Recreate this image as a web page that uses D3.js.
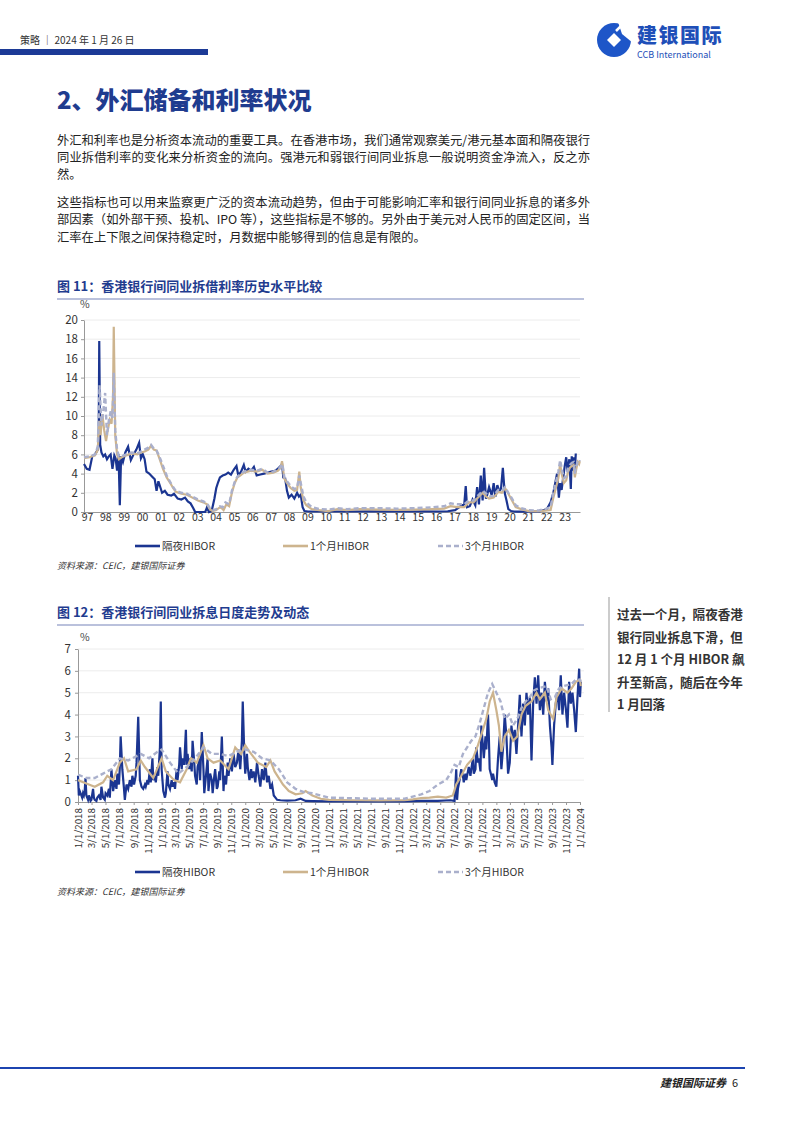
<!DOCTYPE html>
<html><head><meta charset="utf-8">
<script src="https://cdn.jsdelivr.net/npm/d3@7"></script>
<style>
html,body{margin:0;padding:0;background:#fff;}
svg text{font-family:"Noto Sans CJK SC","Noto Sans",sans-serif;}
</style></head>
<body>
<svg id="page" width="802" height="1133"></svg>
<script>
// ---------- DATA ----------
// Chart 1 (monthly history, fractional years)
const c1OnDates = [1997.0,1997.15,1997.3,1997.45,1997.6,1997.75,1997.8,1997.83,1997.88,1997.95,1998.05,1998.15,1998.25,1998.35,1998.45,1998.55,1998.65,1998.72,1998.8,1998.88,1998.95,1999.02,1999.12,1999.25,1999.4,1999.55,1999.7,1999.85,2000.0,2000.1,2000.2,2000.3,2000.4,2000.55,2000.7,2000.85,2000.95,2001.05,2001.15,2001.25,2001.4,2001.55,2001.75,2001.9,2002.1,2002.3,2002.5,2002.65,2002.8,2002.95,2003.05,2003.2,2003.4,2003.6,2003.7,2003.8,2003.95,2004.1,2004.2,2004.3,2004.4,2004.55,2004.7,2004.85,2005.0,2005.15,2005.3,2005.4,2005.55,2005.7,2005.8,2005.95,2006.1,2006.25,2006.4,2006.6,2006.8,2007.0,2007.2,2007.4,2007.55,2007.7,2007.78,2007.85,2007.95,2008.05,2008.15,2008.3,2008.45,2008.6,2008.7,2008.8,2008.9,2009.0,2009.2,2009.6,2010.0,2010.8,2011.5,2012.5,2013.5,2014.5,2015.5,2016.3,2016.8,2017.2,2017.5,2017.7,2017.78,2017.85,2018.0,2018.15,2018.3,2018.4,2018.5,2018.6,2018.7,2018.78,2018.88,2018.95,2019.05,2019.2,2019.3,2019.4,2019.5,2019.6,2019.7,2019.8,2019.9,2020.0,2020.1,2020.25,2020.4,2020.55,2020.8,2021.3,2021.8,2022.2,2022.4,2022.55,2022.65,2022.75,2022.85,2022.92,2023.0,2023.08,2023.17,2023.25,2023.33,2023.42,2023.5,2023.55,2023.6,2023.67,2023.72,2023.77,2023.83,2023.88,2023.93,2023.97];
const c1OnVals  = [5.0,4.5,4.4,5.8,6.0,6.5,7.5,17.8,7.0,6.2,5.8,6.0,5.5,5.8,6.0,4.5,5.9,5.6,4.3,6.0,0.7,5.8,5.2,6.2,6.8,5.4,6.0,6.5,7.2,5.6,6.0,5.5,4.2,4.0,3.7,3.4,2.2,3.2,2.6,2.0,2.2,1.8,1.7,1.9,1.4,1.3,1.5,1.1,0.9,0.4,0.0,0.0,0.0,0.0,0.5,0.0,0.1,1.4,2.5,3.1,3.6,3.8,3.9,4.1,3.9,4.4,4.8,3.8,4.2,4.9,4.2,4.5,4.3,4.7,3.8,3.9,4.0,4.1,4.2,4.3,4.5,4.8,5.0,3.6,3.5,2.2,1.5,1.8,1.4,2.0,1.6,1.8,0.5,0.1,0.05,0.05,0.05,0.05,0.05,0.06,0.06,0.05,0.06,0.05,0.08,0.2,0.6,0.8,2.7,0.5,0.6,1.3,0.7,2.6,0.8,3.8,1.2,4.6,1.4,1.8,2.6,1.7,3.0,1.6,2.8,2.2,2.4,4.6,2.0,1.2,0.3,0.1,0.05,0.03,0.03,0.03,0.05,0.3,1.0,2.0,3.0,4.0,1.5,3.0,2.3,3.5,4.8,5.7,4.2,5.5,2.4,5.8,4.3,5.7,4.2,6.1];

const c1M1Dates = [1997.0,1997.3,1997.6,1997.75,1997.83,1997.9,1998.0,1998.1,1998.2,1998.3,1998.4,1998.5,1998.58,1998.62,1998.7,1998.8,1998.9,1999.05,1999.3,1999.6,1999.9,2000.1,2000.3,2000.5,2000.65,2000.8,2000.95,2001.1,2001.3,2001.5,2001.7,2001.85,2002.0,2002.3,2002.6,2002.9,2003.2,2003.5,2003.7,2003.85,2004.0,2004.2,2004.4,2004.5,2004.6,2004.75,2004.9,2005.05,2005.2,2005.35,2005.5,2005.7,2005.9,2006.1,2006.4,2006.7,2007.0,2007.3,2007.55,2007.7,2007.78,2007.9,2008.05,2008.25,2008.45,2008.6,2008.72,2008.8,2008.95,2009.1,2009.4,2009.8,2010.3,2010.8,2011.3,2012.0,2013.0,2014.0,2015.0,2016.0,2016.6,2016.95,2017.3,2017.7,2017.95,2018.2,2018.45,2018.7,2018.9,2019.05,2019.3,2019.55,2019.75,2019.92,2020.1,2020.3,2020.5,2020.8,2021.2,2021.7,2022.1,2022.4,2022.55,2022.7,2022.82,2022.92,2023.0,2023.12,2023.25,2023.35,2023.45,2023.55,2023.65,2023.72,2023.8,2023.88,2023.95,2023.99];
const c1M1Vals  = [5.6,5.7,5.9,6.5,9.5,8.0,10.2,8.5,7.4,8.6,9.6,9.2,12.0,19.3,8.0,6.0,5.5,5.7,5.9,6.1,6.0,6.2,6.3,6.5,6.9,6.5,6.4,5.6,4.5,3.6,3.0,2.5,2.1,1.9,1.8,1.5,1.2,1.0,0.8,0.3,0.1,0.2,0.5,0.4,0.2,0.8,0.6,2.0,3.0,3.6,3.8,4.1,4.2,4.3,4.2,4.4,4.0,4.1,4.3,4.6,5.3,3.5,3.0,2.5,2.2,2.3,4.2,2.5,1.2,0.7,0.3,0.2,0.1,0.3,0.2,0.3,0.25,0.22,0.25,0.3,0.35,0.6,0.5,0.5,1.0,1.0,1.5,2.0,1.6,1.4,1.5,2.1,2.0,2.5,1.9,1.2,0.5,0.3,0.1,0.08,0.15,0.2,1.5,2.6,3.5,5.0,4.0,3.0,3.3,4.2,4.6,4.8,4.9,3.6,4.5,5.2,5.0,5.3];

const c1M3Dates = [1997.0,1997.3,1997.6,1997.75,1997.85,1997.95,1998.05,1998.15,1998.25,1998.35,1998.45,1998.55,1998.62,1998.7,1998.8,1998.9,1999.05,1999.3,1999.6,1999.9,2000.1,2000.3,2000.5,2000.65,2000.8,2000.95,2001.1,2001.3,2001.5,2001.7,2001.85,2002.0,2002.3,2002.6,2002.9,2003.2,2003.5,2003.7,2003.85,2004.0,2004.2,2004.4,2004.55,2004.7,2004.9,2005.05,2005.2,2005.35,2005.5,2005.7,2005.9,2006.1,2006.4,2006.7,2007.0,2007.3,2007.55,2007.7,2007.8,2007.9,2008.05,2008.25,2008.45,2008.6,2008.72,2008.8,2008.95,2009.1,2009.4,2009.8,2010.3,2010.8,2011.3,2012.0,2013.0,2014.0,2015.0,2016.0,2016.6,2016.95,2017.3,2017.7,2017.95,2018.2,2018.45,2018.7,2018.9,2019.05,2019.3,2019.55,2019.75,2019.92,2020.1,2020.3,2020.5,2020.8,2021.2,2021.7,2022.1,2022.4,2022.55,2022.7,2022.82,2022.92,2023.0,2023.12,2023.25,2023.35,2023.45,2023.55,2023.65,2023.72,2023.8,2023.88,2023.95,2023.99];
const c1M3Vals  = [5.7,5.8,6.0,6.8,13.2,9.0,10.5,12.4,8.0,9.5,10.5,9.8,14.5,8.5,6.5,5.8,5.8,6.0,6.2,6.1,6.3,6.5,6.7,7.0,6.6,6.4,5.8,4.8,3.8,3.1,2.6,2.2,2.0,1.9,1.6,1.3,1.1,0.9,0.4,0.2,0.3,0.6,0.5,1.0,0.8,2.2,3.1,3.7,3.9,4.2,4.3,4.4,4.3,4.5,4.1,4.2,4.4,4.7,5.0,3.7,3.2,2.7,2.4,2.5,3.8,3.0,1.6,1.0,0.5,0.3,0.25,0.4,0.3,0.4,0.4,0.35,0.4,0.5,0.6,0.9,0.8,0.8,1.2,1.2,1.7,2.2,1.9,1.6,1.7,2.3,2.2,2.6,2.0,1.4,0.7,0.4,0.2,0.15,0.3,0.5,2.0,3.2,4.2,5.4,4.6,3.5,3.7,4.5,4.9,5.1,5.2,4.0,4.8,5.3,5.2,5.4];

// Chart 2 (daily trend 2018-2024, fractional years)
const c2OnDates = [
 2018.00,2018.01,2018.02,2018.03,2018.04,2018.05,2018.06,2018.07,2018.08,2018.09,
 2018.10,2018.11,2018.12,2018.13,2018.15,2018.16,2018.18,2018.19,2018.20,2018.22,
 2018.23,2018.25,2018.27,2018.28,2018.30,2018.32,2018.33,2018.35,2018.37,2018.38,
 2018.40,2018.42,2018.44,2018.46,2018.47,2018.49,2018.50,2018.51,2018.53,2018.55,
 2018.56,2018.58,2018.60,2018.62,2018.64,2018.65,2018.67,2018.69,2018.70,2018.72,
 2018.74,2018.76,2018.78,2018.80,2018.81,2018.83,2018.84,2018.86,2018.87,2018.89,
 2018.90,2018.92,2018.93,2018.95,2018.96,2018.98,2018.99,2019.00,2019.02,2019.04,
 2019.05,2019.07,2019.08,2019.10,2019.12,2019.13,2019.15,2019.16,2019.18,2019.19,
 2019.21,2019.22,2019.24,2019.25,2019.27,2019.29,2019.30,2019.31,2019.33,2019.34,
 2019.36,2019.37,2019.39,2019.40,2019.42,2019.43,2019.45,2019.46,2019.48,2019.50,
 2019.51,2019.53,2019.55,2019.56,2019.58,2019.60,2019.61,2019.63,2019.64,2019.66,
 2019.67,2019.69,2019.70,2019.72,2019.74,2019.75,2019.77,2019.79,2019.80,2019.82,
 2019.84,2019.86,2019.88,2019.90,2019.92,2019.94,2019.96,2019.97,2019.99,2020.00,
 2020.02,2020.03,2020.05,2020.07,2020.08,2020.10,2020.12,2020.14,2020.16,2020.18,
 2020.20,2020.22,2020.24,2020.26,2020.28,2020.30,2020.32,2020.34,2020.36,2020.38,
 2020.42,2020.50,2020.60,2020.66,2020.72,2020.80,2021.00,2021.30,2021.60,2021.90,
 2022.10,2022.30,2022.45,2022.50,2022.52,2022.53,2022.54,2022.56,2022.58,2022.60,
 2022.61,2022.63,2022.64,2022.66,2022.67,2022.69,2022.70,2022.72,2022.73,2022.75,
 2022.76,2022.78,2022.79,2022.81,2022.82,2022.84,2022.85,2022.87,2022.88,2022.90,
 2022.91,2022.92,2022.94,2022.95,2022.96,2022.98,2023.00,2023.02,2023.04,2023.06,
 2023.08,2023.10,2023.12,2023.14,2023.16,2023.18,2023.20,2023.22,2023.24,2023.26,
 2023.28,2023.30,2023.32,2023.34,2023.36,2023.38,2023.40,2023.42,2023.44,2023.46,
 2023.48,2023.50,2023.52,2023.54,2023.56,2023.58,2023.60,2023.62,2023.64,2023.66,
 2023.67,2023.69,2023.71,2023.73,2023.75,2023.77,2023.79,2023.81,2023.83,2023.85,
 2023.87,2023.89,2023.91,2023.93,2023.95,2023.97,2023.99,2024.00,2024.01];
const c2OnVals = [
 1.2,0.3,0.5,0.4,0.3,0.2,0.4,0.3,0.5,1.1,
 0.3,0.2,0.1,0.3,0.05,0.1,0.6,0.2,0.1,0.05,
 0.2,0.3,0.1,0.7,0.2,0.1,0.4,0.3,0.6,0.2,
 1.5,0.5,1.0,0.6,1.3,0.8,1.6,3.0,1.5,0.6,
 0.1,0.8,0.6,1.0,0.7,1.2,0.8,1.2,1.8,3.9,
 1.0,0.7,0.6,0.8,0.7,1.0,0.8,1.5,0.9,2.0,
 1.0,1.2,0.9,1.6,1.2,2.5,4.6,1.5,0.5,0.2,
 0.4,1.4,0.8,0.6,1.0,0.7,0.9,0.6,1.5,1.0,
 1.7,2.5,1.5,2.0,1.7,3.3,1.7,2.2,1.5,2.0,
 1.4,2.8,1.8,1.2,0.8,1.6,2.0,1.0,3.2,1.5,
 0.4,1.2,2.0,0.5,1.3,1.0,0.4,1.2,1.5,0.6,
 0.7,1.4,1.0,3.0,0.5,1.2,0.8,1.8,1.2,2.0,
 1.4,2.2,1.6,1.8,2.4,1.5,2.8,4.6,2.0,1.3,
 2.2,1.6,1.0,1.5,1.1,1.4,0.9,1.8,1.2,0.7,
 1.5,1.0,1.8,0.9,1.2,0.6,0.8,0.3,0.2,0.1,
 0.08,0.06,0.08,0.15,0.05,0.04,0.03,0.03,0.03,0.03,
 0.05,0.05,0.08,0.05,1.5,0.1,0.6,1.0,1.5,1.2,
 0.9,1.3,1.0,1.4,1.6,1.2,1.5,2.0,1.3,1.5,
 2.5,1.8,2.0,1.4,3.5,2.5,2.0,3.0,2.4,4.0,
 3.0,1.5,1.2,1.0,1.3,0.9,0.7,2.0,3.0,1.5,
 2.5,4.0,3.0,1.3,1.8,3.5,2.8,3.3,2.2,3.5,
 4.9,3.0,4.5,3.5,5.0,4.0,4.8,1.9,4.5,5.7,
 4.5,5.8,4.2,5.0,4.0,5.5,4.6,5.2,3.5,2.5,
 1.7,3.5,4.5,5.0,4.2,5.8,4.0,5.0,4.3,3.4,
 5.5,4.5,5.0,4.2,3.2,4.8,6.1,4.8,5.5];

const c2M1Dates = [2018.0,2018.1,2018.2,2018.3,2018.35,2018.42,2018.5,2018.55,2018.6,2018.7,2018.75,2018.8,2018.9,2019.0,2019.05,2019.15,2019.22,2019.3,2019.35,2019.42,2019.5,2019.55,2019.62,2019.7,2019.8,2019.88,2019.95,2020.0,2020.05,2020.15,2020.25,2020.3,2020.35,2020.45,2020.52,2020.6,2020.68,2020.72,2020.8,2020.9,2021.0,2021.3,2021.6,2021.9,2022.0,2022.1,2022.2,2022.3,2022.4,2022.48,2022.52,2022.58,2022.65,2022.72,2022.78,2022.83,2022.88,2022.92,2022.96,2023.0,2023.03,2023.06,2023.1,2023.15,2023.2,2023.25,2023.3,2023.35,2023.42,2023.48,2023.52,2023.58,2023.62,2023.68,2023.72,2023.78,2023.85,2023.9,2023.95,2024.0,2024.01];
const c2M1Vals  = [1.0,0.85,0.7,0.9,1.2,1.0,1.8,2.0,1.4,1.5,1.9,1.6,1.1,2.0,1.4,1.0,0.9,1.5,2.0,1.8,2.6,2.0,1.8,1.9,1.5,2.5,2.2,2.6,2.3,1.8,1.6,1.9,1.4,0.8,0.5,0.35,0.4,0.5,0.3,0.15,0.1,0.08,0.07,0.08,0.12,0.18,0.2,0.25,0.2,0.3,0.8,1.2,1.7,2.0,2.6,3.2,3.8,4.6,5.0,4.2,3.5,2.3,3.0,3.3,2.8,3.0,4.0,4.4,4.6,5.0,4.7,5.0,4.2,3.8,4.8,5.2,5.0,5.2,5.5,5.6,5.3];

const c2M3Dates = [2018.0,2018.1,2018.2,2018.3,2018.4,2018.5,2018.6,2018.7,2018.75,2018.85,2018.95,2019.0,2019.1,2019.2,2019.3,2019.4,2019.5,2019.6,2019.7,2019.8,2019.9,2020.0,2020.1,2020.2,2020.3,2020.4,2020.5,2020.6,2020.7,2020.8,2020.9,2021.0,2021.5,2021.9,2022.0,2022.1,2022.2,2022.3,2022.4,2022.45,2022.5,2022.55,2022.6,2022.7,2022.75,2022.8,2022.85,2022.9,2022.95,2023.0,2023.05,2023.1,2023.15,2023.2,2023.25,2023.3,2023.35,2023.4,2023.45,2023.5,2023.6,2023.65,2023.7,2023.75,2023.8,2023.9,2023.95,2024.0,2024.01];
const c2M3Vals  = [1.25,1.1,1.1,1.3,1.5,2.0,1.9,2.1,2.2,2.0,2.3,2.4,1.8,1.3,1.6,2.0,2.5,2.2,2.2,2.1,2.3,2.4,2.3,2.0,1.9,1.5,0.9,0.6,0.45,0.4,0.3,0.2,0.15,0.15,0.25,0.35,0.5,0.8,1.0,1.3,1.7,1.6,2.2,2.8,3.0,3.6,4.3,5.0,5.4,5.0,4.6,3.8,4.0,3.5,3.8,4.3,4.6,4.8,5.1,5.2,5.3,4.7,4.8,5.2,5.3,5.4,5.6,5.6,5.5];

const c1YTicks = [0,2,4,6,8,10,12,14,16,18,20];
const c1XLabels = ["97","98","99","00","01","02","03","04","05","06","07","08","09","10","11","12","13","14","15","16","17","18","19","20","21","22","23"];
const c2YTicks = [0,1,2,3,4,5,6,7];
const seriesNames = ["隔夜HIBOR","1个月HIBOR","3个月HIBOR"];

const para1 = ["外汇和利率也是分析资本流动的重要工具。在香港市场，我们通常观察美元/港元基本面和隔夜银行",
               "同业拆借利率的变化来分析资金的流向。强港元和弱银行间同业拆息一般说明资金净流入，反之亦",
               "然。"];
const para2 = ["这些指标也可以用来监察更广泛的资本流动趋势，但由于可能影响汇率和银行间同业拆息的诸多外",
               "部因素（如外部干预、投机、IPO 等），这些指标是不够的。另外由于美元对人民币的固定区间，当",
               "汇率在上下限之间保持稳定时，月数据中能够得到的信息是有限的。"];
const sideNote = ["过去一个月，隔夜香港","银行同业拆息下滑，但","12 月 1 个月 HIBOR 飙","升至新高，随后在今年","1 月回落"];

// ---------- STYLE ----------
const NAVY = "#1b3591", TAN = "#cdb48e", GREY = "#aab0cc", TITLE = "#1f3c8f";
const svg = d3.select("#page");

// ---------- HEADER ----------
svg.append("text").attr("x",20).attr("y",44).attr("font-size",10).attr("fill","#333").text("策略 ｜ 2024 年 1 月 26 日");
svg.append("rect").attr("x",0).attr("y",49).attr("width",208).attr("height",6).attr("fill","#1c3a96");
// logo
const lg = svg.append("g").attr("transform","translate(614,40)");
lg.append("circle").attr("r",17).attr("fill","#1e56c8");
lg.append("path").attr("d","M-7,0 L0,-7 L7,0 L0,7 Z").attr("fill","#fff");
lg.append("path").attr("d","M4,-18 L19,-18 L19,3 L8,-6 Z").attr("fill","#fff");
lg.append("path").attr("d","M2,-9 L9,-16").attr("stroke","#fff").attr("stroke-width",2.5);
svg.append("text").attr("x",637).attr("y",43).attr("font-size",20).attr("font-weight",900).attr("fill","#1e4fb8").attr("letter-spacing",1.5).text("建银国际");
svg.append("text").attr("x",637).attr("y",58).attr("font-size",9).attr("fill","#1e4fb8").text("CCB International");

// Section title
svg.append("text").attr("x",57).attr("y",109).attr("font-size",24).attr("font-weight",900).attr("fill",TITLE).text("2、外汇储备和利率状况");

// paragraphs
function para(lines, y0, justifyCount){
  lines.forEach((l,i)=>{
    const t = svg.append("text").attr("x",57).attr("y",y0+i*17.4).attr("font-size",12.3).attr("fill","#222").text(l);
    if(i<justifyCount) t.attr("textLength",533).attr("lengthAdjust","spacing");
  });
}
para(para1,144.5,2);
para(para2,206.7,2);

// ---------- helpers ----------
function figTitle(y, txt){
  svg.append("text").attr("x",57).attr("y",y).attr("font-size",13).attr("font-weight",700).attr("fill",TITLE).text(txt);
  svg.append("line").attr("x1",57).attr("x2",584).attr("y1",y+8).attr("y2",y+8).attr("stroke","#a3acd0").attr("stroke-width",1.5);
}
function legend(y){
  const items=[{x:135,c:NAVY,d:null,w:2.6},{x:283,c:TAN,d:null,w:2.6},{x:438,c:GREY,d:"5,3",w:2.6}];
  items.forEach((it,i)=>{
    svg.append("line").attr("x1",it.x).attr("x2",it.x+25).attr("y1",y).attr("y2",y).attr("stroke",it.c).attr("stroke-width",it.w).attr("stroke-dasharray",it.d);
    svg.append("text").attr("x",it.x+27).attr("y",y+4).attr("font-size",10.5).attr("fill","#333").text(seriesNames[i]);
  });
}
function source(y){
  svg.append("text").attr("x",57).attr("y",y).attr("font-size",9).attr("font-style","italic").attr("fill","#333").text("资料来源：CEIC，建银国际证券");
}
function zip(ds,vs){ return ds.map((d,i)=>({t:d,v:vs[i]})); }

// ---------- CHART 1 ----------
figTitle(291,"图 11：香港银行间同业拆借利率历史水平比较");
{
  const x = d3.scaleLinear().domain([1997,2024]).range([84,580]);
  const y = d3.scaleLinear().domain([0,20]).range([512,320]);
  const g = svg.append("g");
  g.selectAll(".gl").data(c1YTicks.filter(d=>d>0)).join("line")
    .attr("x1",84).attr("x2",580).attr("y1",d=>y(d)).attr("y2",d=>y(d)).attr("stroke","#ececec").attr("stroke-width",1);
  const ya = g.append("g").attr("transform","translate(84,0)").call(d3.axisLeft(y).tickValues(c1YTicks).tickSize(3).tickSizeOuter(0));
  ya.select(".domain").attr("stroke","#999");
  ya.selectAll(".tick line").attr("stroke","#999");
  ya.selectAll("text").attr("font-size",11.5).attr("fill","#333").attr("font-family","Noto Sans, sans-serif").attr("x",-6);
  const xa = g.append("g").attr("transform","translate(0,512)").call(d3.axisBottom(x).tickValues(d3.range(1997,2024)).tickFormat((d,i)=>c1XLabels[i]).tickSize(3).tickSizeOuter(0));
  xa.select(".domain").attr("stroke","#999");
  xa.selectAll(".tick line").attr("stroke","#999");
  xa.selectAll("text").attr("font-size",10.5).attr("fill","#333").attr("font-family","Noto Sans, sans-serif").attr("dx",3).attr("dy",3);
  svg.append("text").attr("x",80).attr("y",308).attr("font-size",10.5).attr("fill","#444").text("%");
  const line = d3.line().x(d=>x(d.t)).y(d=>y(d.v));
  g.append("path").datum(zip(c1OnDates,c1OnVals)).attr("d",line).attr("fill","none").attr("stroke",NAVY).attr("stroke-width",2.2);
  g.append("path").datum(zip(c1M1Dates,c1M1Vals)).attr("d",line).attr("fill","none").attr("stroke",TAN).attr("stroke-width",2.2);
  g.append("path").datum(zip(c1M3Dates,c1M3Vals)).attr("d",line).attr("fill","none").attr("stroke",GREY).attr("stroke-width",2.4).attr("stroke-dasharray","5,3");
}
legend(546);
source(569);

// ---------- CHART 2 ----------
figTitle(617,"图 12：香港银行间同业拆息日度走势及动态");
{
  const toDate = f => { const yr=Math.floor(f); const s=new Date(yr,0,1), e=new Date(yr+1,0,1); return new Date(+s+(f-yr)*(e-s)); };
  const x = d3.scaleTime().domain([new Date(2018,0,1),new Date(2024,0,1)]).range([78,580]);
  const y = d3.scaleLinear().domain([0,7]).range([802,649]);
  const g = svg.append("g");
  g.selectAll(".gl").data(c2YTicks.filter(d=>d>0)).join("line")
    .attr("x1",78).attr("x2",584).attr("y1",d=>y(d)).attr("y2",d=>y(d)).attr("stroke","#ececec");
  const ya = g.append("g").attr("transform","translate(78,0)").call(d3.axisLeft(y).tickValues(c2YTicks).tickFormat(d3.format("d")).tickSize(3).tickSizeOuter(0));
  ya.select(".domain").attr("stroke","#999");
  ya.selectAll(".tick line").attr("stroke","#999");
  ya.selectAll("text").attr("font-size",11.5).attr("fill","#333").attr("font-family","Noto Sans, sans-serif").attr("x",-7);
  const tv = d3.timeMonth.every(2).range(new Date(2018,0,1), new Date(2024,0,2));
  const xa = g.append("g").attr("transform","translate(0,802)").call(d3.axisBottom(x).tickValues(tv).tickFormat(d3.timeFormat("%-m/%-d/%Y")).tickSize(3).tickSizeOuter(0));
  xa.select(".domain").attr("stroke","#999");
  xa.selectAll(".tick line").attr("stroke","#999");
  xa.selectAll("text").attr("font-size",9.8).attr("fill","#333").attr("font-family","Noto Sans, sans-serif")
    .attr("transform","rotate(-90)").attr("text-anchor","end").attr("x",-6).attr("y",0).attr("dy","0.35em");
  svg.append("text").attr("x",80).attr("y",641).attr("font-size",10.5).attr("fill","#444").text("%");
  const line = d3.line().x(d=>x(toDate(d.t))).y(d=>y(d.v));
  g.append("path").datum(zip(c2OnDates,c2OnVals)).attr("d",line).attr("fill","none").attr("stroke",NAVY).attr("stroke-width",2.2);
  g.append("path").datum(zip(c2M1Dates,c2M1Vals)).attr("d",line).attr("fill","none").attr("stroke",TAN).attr("stroke-width",2.2);
  g.append("path").datum(zip(c2M3Dates,c2M3Vals)).attr("d",line).attr("fill","none").attr("stroke",GREY).attr("stroke-width",2.4).attr("stroke-dasharray","5,3");
}
legend(872);
source(895);

// side note
svg.append("line").attr("x1",609).attr("x2",609).attr("y1",597).attr("y2",712).attr("stroke","#999").attr("stroke-width",1);
sideNote.forEach((l,i)=>{
  svg.append("text").attr("x",617).attr("y",619+i*22.5).attr("font-size",12.6).attr("font-weight",700).attr("fill","#333").text(l);
});

// ---------- FOOTER ----------
svg.append("rect").attr("x",0).attr("y",1067).attr("width",745).attr("height",2).attr("fill","#1c44b0");
svg.append("text").attr("x",660).attr("y",1087).attr("font-size",11).attr("font-style","italic").attr("font-weight",700).attr("fill","#222").text("建银国际证券");
svg.append("text").attr("x",732).attr("y",1087).attr("font-size",11).attr("fill","#222").text("6");
</script>
</body></html>
